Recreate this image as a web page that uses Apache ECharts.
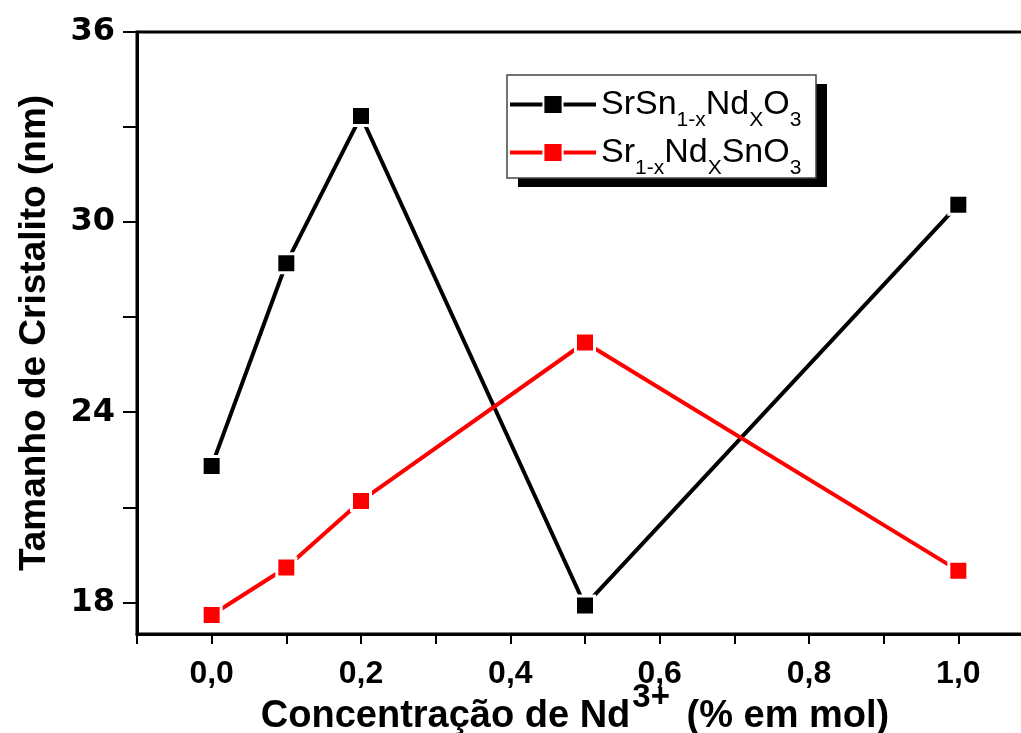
<!DOCTYPE html>
<html>
<head>
<meta charset="utf-8">
<script src="https://cdn.jsdelivr.net/npm/echarts@6/dist/echarts.min.js"></script>
<style>
  html, body { margin: 0; padding: 0; background: #fff; }
  #chart { width: 1021px; height: 733px; }
</style>
</head>
<body>
<div id="chart"></div>
<script>
// Nd3+ concentration (mol fraction) and crystallite size (nm)
const concentration = [0.0, 0.1, 0.2, 0.5, 1.0];
const sizeSnSite = [22.3, 28.7, 33.35, 17.9, 30.55];   // SrSn(1-x)Nd(x)O3
const sizeSrSite = [17.6, 19.1, 21.2, 26.2, 19.0];     // Sr(1-x)Nd(x)SnO3

const xTickValues = [-0.1, 0.0, 0.1, 0.2, 0.3, 0.4, 0.5, 0.6, 0.7, 0.8, 0.9, 1.0, 1.1];
const xLabelValues = [0.0, 0.2, 0.4, 0.6, 0.8, 1.0];
const yTickValues = [18, 21, 24, 27, 30, 33, 36];
const yLabelValues = [18, 24, 30, 36];

const nameSnSite = 'SrSn1-xNdXO3';
const nameSrSite = 'Sr1-xNdxSnO3';
// rich-text markup for the legend names (subscripts)
const legendMarkup = {
  [nameSnSite]: '{n|SrSn}{s|1-x}{n|Nd}{s|X}{n|O}{s|3}',
  [nameSrSite]: '{n|Sr}{s|1-x}{n|Nd}{s|X}{n|SnO}{s|3}'
};

const pair = (xs, ys) => xs.map((x, i) => [x, ys[i]]);

const chart = echarts.init(document.getElementById('chart'), null, { renderer: 'canvas' });

const markerStyle = (color) => ({
  color: color,
  borderColor: '#ffffff',
  borderWidth: 3
});

// legend frame with its solid drop shadow
const legendBox = { x: 507, y: 75, w: 309, h: 103, shadowDx: 11, shadowDy: 9 };

chart.setOption({
  animation: false,
  backgroundColor: '#ffffff',
  grid: {
    left: 137, top: 32, right: -12, bottom: 99,
    show: true, borderColor: '#000', borderWidth: 3,
    outerBoundsMode: 'none'
  },
  graphic: [
    {
      type: 'rect', z: 90,
      shape: { x: legendBox.x + legendBox.shadowDx, y: legendBox.y + legendBox.shadowDy, width: legendBox.w, height: legendBox.h },
      style: { fill: '#000' }
    },
    {
      type: 'rect', z: 91,
      shape: { x: legendBox.x, y: legendBox.y, width: legendBox.w, height: legendBox.h },
      style: { fill: '#fff', stroke: '#444', lineWidth: 1.5 }
    }
  ],
  xAxis: {
    type: 'value',
    min: -0.1, max: 1.1,
    splitLine: { show: false },
    axisLine: { show: true, onZero: false, lineStyle: { color: '#000', width: 3 } },
    axisTick: { show: true, inside: false, length: 10, lineStyle: { color: '#000', width: 2 }, customValues: xTickValues },
    axisLabel: {
      customValues: xLabelValues,
      margin: 24,
      color: '#000',
      fontFamily: 'Liberation Sans',
      fontWeight: 'bold',
      fontSize: 32,
      formatter: (v) => v.toFixed(1).replace('.', ',')
    },
    name: '{m|Concentração de Nd}{p|3+}{m| (% em mol)}',
    nameLocation: 'middle',
    nameGap: 65,
    nameMoveOverlap: false,
    nameTextStyle: {
      padding: [0, 20, 0, 0],
      rich: {
        m: { fontFamily: 'Liberation Sans', fontWeight: 'bold', fontSize: 38, color: '#000', lineHeight: 36, verticalAlign: 'middle' },
        p: { fontFamily: 'Liberation Sans', fontWeight: 'bold', fontSize: 33, color: '#000', lineHeight: 36, verticalAlign: 'middle', padding: [0, 6, 38, 2] }
      }
    }
  },
  yAxis: {
    type: 'value',
    min: 17, max: 36,
    splitLine: { show: false },
    axisLine: { show: true, onZero: false, lineStyle: { color: '#000', width: 3 } },
    axisTick: { show: true, inside: false, length: 14, lineStyle: { color: '#000', width: 2 }, customValues: yTickValues },
    axisLabel: {
      customValues: yLabelValues,
      margin: 22,
      color: '#000',
      fontFamily: 'DejaVu Sans',
      fontWeight: 'bold',
      fontSize: 32
    },
    name: 'Tamanho de Cristalito (nm)',
    nameLocation: 'middle',
    nameRotate: 90,
    nameGap: 84,
    nameMoveOverlap: false,
    nameTextStyle: {
      color: '#000',
      fontFamily: 'Liberation Sans',
      fontWeight: 'bold',
      fontSize: 37
    }
  },
  legend: {
    left: 508, top: 78,
    orient: 'vertical',
    padding: 0,
    z: 100,
    itemWidth: 86,
    itemHeight: 24,
    itemGap: -5,
    lineStyle: { width: 4 },
    formatter: (name) => legendMarkup[name],
    textStyle: {
      rich: {
        n: { fontFamily: 'Liberation Sans', fontSize: 34, color: '#000', lineHeight: 38, verticalAlign: 'middle' },
        s: { fontFamily: 'Liberation Sans', fontSize: 21, color: '#000', lineHeight: 20, verticalAlign: 'middle', padding: [32, 0, 0, 0] }
      }
    },
    data: [nameSnSite, nameSrSite]
  },
  series: [
    {
      name: nameSnSite,
      type: 'line',
      data: pair(concentration, sizeSnSite),
      symbol: 'rect',
      symbolSize: 19,
      lineStyle: { color: '#000', width: 4 },
      itemStyle: markerStyle('#000')
    },
    {
      name: nameSrSite,
      type: 'line',
      data: pair(concentration, sizeSrSite),
      symbol: 'rect',
      symbolSize: 19,
      lineStyle: { color: '#ff0000', width: 4 },
      itemStyle: markerStyle('#ff0000')
    }
  ]
});
</script>
</body>
</html>
